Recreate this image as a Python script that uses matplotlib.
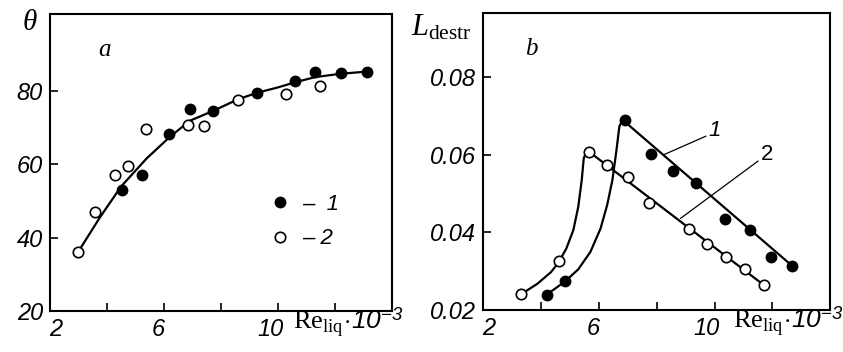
import matplotlib
matplotlib.use("Agg")
import matplotlib.pyplot as plt
from matplotlib.lines import Line2D
from matplotlib.transforms import ScaledTranslation

plt.rcParams['font.family'] = 'Liberation Sans'
plt.rcParams['font.style'] = 'italic'
plt.rcParams['mathtext.fontset'] = 'custom'
plt.rcParams['mathtext.rm'] = 'Liberation Serif:style=normal'
plt.rcParams['mathtext.it'] = 'Liberation Serif:style=italic'
plt.rcParams['mathtext.sf'] = 'Liberation Sans:style=italic'

# panel a: theta vs Re_liq*1e-3
a_re_1 = [4.51, 5.22, 6.19, 6.91, 7.73, 9.25, 10.6, 11.3, 12.2, 13.1]
a_th_1 = [52.9, 57.1, 68.3, 75.0, 74.6, 79.5, 82.8, 85.3, 84.9, 85.1]
a_re_2 = [2.99, 3.58, 4.28, 4.73, 5.37, 6.83, 7.40, 8.58, 10.27, 11.45]
a_th_2 = [36.1, 47.0, 57.1, 59.4, 69.7, 70.7, 70.4, 77.5, 79.1, 81.5]
a_fit_re = [2.99, 3.75, 4.5, 5.39, 6.19, 6.91, 7.73, 8.58, 9.25, 10.0, 10.6, 11.3, 12.18, 13.11]
a_fit_th = [36.1, 45.5, 54.0, 61.6, 67.4, 71.9, 74.6, 77.7, 79.5, 81.0, 82.4, 83.8, 84.7, 85.3]

# panel b: L_destr vs Re_liq*1e-3
b_re_1 = [4.20, 4.82, 6.92, 7.80, 8.55, 9.35, 10.35, 11.21, 11.96, 12.68]
b_L_1 = [0.0240, 0.0274, 0.0690, 0.0602, 0.0557, 0.0528, 0.0434, 0.0406, 0.0337, 0.0314]
b_re_2 = [3.32, 4.62, 5.65, 6.29, 7.02, 7.73, 9.11, 9.73, 10.39, 11.06, 11.71]
b_L_2 = [0.0241, 0.0327, 0.0608, 0.0574, 0.0544, 0.0477, 0.0408, 0.0370, 0.0337, 0.0305, 0.0264]
b_fit1_re = [4.20, 4.82, 5.29, 5.71, 6.06, 6.29, 6.47, 6.61, 6.71, 6.82, 12.68]
b_fit1_L = [0.0240, 0.0273, 0.0305, 0.0350, 0.0410, 0.0471, 0.0535, 0.0612, 0.0673, 0.0690, 0.0314]
b_fit2_re = [3.32, 3.88, 4.35, 4.62, 4.88, 5.12, 5.29, 5.41, 5.48, 5.59, 11.71]
b_fit2_L = [0.0241, 0.0268, 0.0298, 0.0324, 0.0359, 0.0406, 0.0466, 0.0535, 0.0591, 0.0612, 0.0264]

xticks = [2, 4, 6, 8, 10, 12]
xticklabels = ['2', '', '6', '', '10', '']
# small horizontal nudges of the x tick labels (pixels), as printed
xlabel_shift = [6, 0, -6, 0, -8, 0]

tick_size = 17
serif = 'Liberation Serif'
xlabel = r'$\mathrm{Re}_{\mathrm{liq}}\!\cdot\!\mathsf{10}^{\mathsf{-3}}$'

fig = plt.figure(figsize=(8.43, 3.52), dpi=100)
ax_a = fig.add_axes([0.0593, 0.117, 0.406, 0.843])
ax_b = fig.add_axes([0.573, 0.119, 0.412, 0.844])

filled = dict(linestyle='none', marker='o', markersize=7.5, color='black')
hollow = dict(linestyle='none', marker='o', markersize=7.5, markerfacecolor='white',
              markeredgecolor='black', markeredgewidth=1.2)

for ax in (ax_a, ax_b):
    ax.set_xlim(2, 14)
    ax.set_xticks(xticks)
    ax.set_xticklabels(xticklabels)
    ax.tick_params(direction='in', length=6, width=1.2, pad=5, labelsize=tick_size)
    for lab, dx in zip(ax.get_xticklabels(), xlabel_shift):
        lab.set_transform(lab.get_transform() + ScaledTranslation(dx / 100, 0, fig.dpi_scale_trans))
    for sp in ax.spines.values():
        sp.set_linewidth(1.5)

# panel a
ax_a.plot(a_fit_re, a_fit_th, color='black', lw=1.6, zorder=2)
ax_a.plot(a_re_1, a_th_1, zorder=3, **filled)
ax_a.plot(a_re_2, a_th_2, zorder=3, **hollow)
ax_a.set_ylim(21, 101)
ax_a.set_yticks([20, 40, 60, 80])
ax_a.text(0.14, 0.88, 'a', transform=ax_a.transAxes, family=serif, style='italic',
          size=18, va='center')
ax_a.text(0.71, -0.06, xlabel, transform=ax_a.transAxes, size=19, va='baseline', ha='left')
fig.text(0.035, 0.935, '\u03b8', family=serif, style='italic', size=21,
         ha='center', va='center')

handles = [Line2D([], [], **filled), Line2D([], [], **hollow)]
ax_a.legend(handles, ['\u2013  1', '\u2013 2'], loc='center left',
            bbox_to_anchor=(0.58, 0.30), frameon=False, handlelength=1.0,
            handletextpad=0.5, labelspacing=0.6, prop=dict(size=16))

# panel b
ax_b.plot(b_fit1_re, b_fit1_L, color='black', lw=1.6, zorder=2)
ax_b.plot(b_fit2_re, b_fit2_L, color='black', lw=1.6, zorder=2)
ax_b.plot(b_re_1, b_L_1, zorder=3, **filled)
ax_b.plot(b_re_2, b_L_2, zorder=3, **hollow)
ax_b.set_ylim(0.0205, 0.0965)
ax_b.set_yticks([0.02, 0.04, 0.06, 0.08])
ax_b.set_yticklabels(['0.02', '0.04', '0.06', '0.08'])
ax_b.text(0.12, 0.88, 'b', transform=ax_b.transAxes, family=serif, style='italic',
          size=18, va='center')
ax_b.text(0.72, -0.06, xlabel, transform=ax_b.transAxes, size=19, va='baseline', ha='left')
fig.text(0.487, 0.90, r'$L_{\mathrm{destr}}$', size=22, ha='left', va='baseline')

ax_b.annotate('1', xy=(8.24, 0.0600), xytext=(9.8, 0.0662), size=16, va='center',
              arrowprops=dict(arrowstyle='-', lw=0.9, color='black', relpos=(0, 0.3),
                              shrinkA=0, shrinkB=0))
ax_b.annotate('2', xy=(8.82, 0.0436), xytext=(11.6, 0.0600), size=16, style='normal',
              va='center',
              arrowprops=dict(arrowstyle='-', lw=0.9, color='black', relpos=(0, 0.3),
                              shrinkA=0, shrinkB=0))

fig.savefig('out.png', dpi=100)
